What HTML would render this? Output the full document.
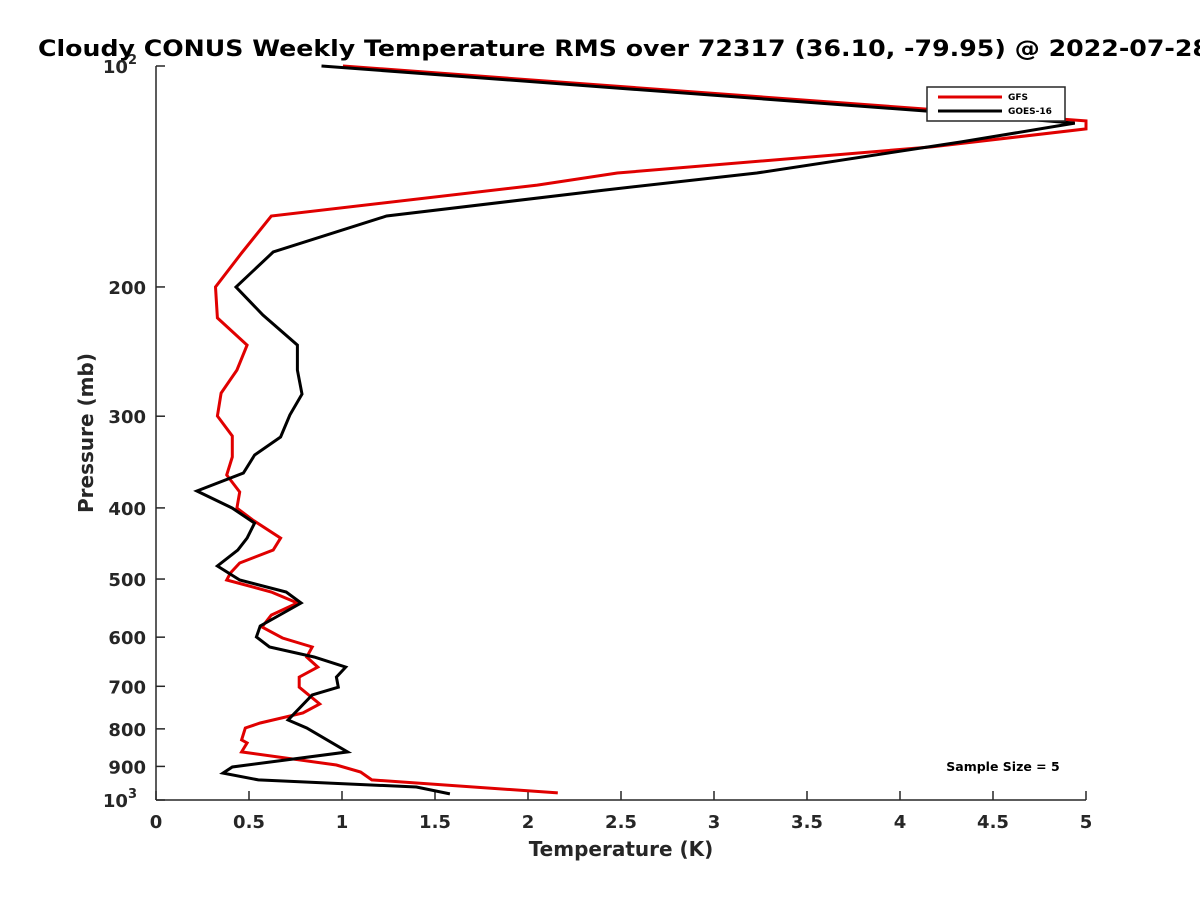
<!DOCTYPE html>
<html><head><meta charset="utf-8"><style>
body{margin:0;background:#fff;}
svg{display:block;font-family:"DejaVu Sans","Liberation Sans",sans-serif;}
</style></head><body>
<svg id="chart" width="1200" height="900">
<text x="38" y="56" font-size="22" font-weight="bold" fill="#000" textLength="1172" lengthAdjust="spacingAndGlyphs">Cloudy CONUS Weekly Temperature RMS over 72317 (36.10, -79.95) @ 2022-07-28</text>
<g id="axes"></g>
<g id="series"></g>
<text x="621" y="856" font-size="20" font-weight="bold" fill="#262626" text-anchor="middle">Temperature (K)</text>
<text transform="translate(93,433) rotate(-90)" font-size="20" font-weight="bold" fill="#262626" text-anchor="middle">Pressure (mb)</text>
<g>
<rect x="927" y="87" width="138" height="34" fill="#fff" stroke="#262626" stroke-width="1.5"/>
<line x1="938" y1="97" x2="1002" y2="97" stroke="#e00000" stroke-width="3"/>
<text x="1008" y="100" font-size="9" font-weight="bold">GFS</text>
<line x1="938" y1="111" x2="1002" y2="111" stroke="#000" stroke-width="3"/>
<text x="1008" y="114" font-size="9" font-weight="bold">GOES-16</text>
</g>
<text x="1003" y="771" font-size="12.5" font-weight="bold" text-anchor="middle">Sample Size = 5</text>
</svg>
<script>
const xTicks=[0,0.5,1,1.5,2,2.5,3,3.5,4,4.5,5];
const xTickLabels=["0","0.5","1","1.5","2","2.5","3","3.5","4","4.5","5"];
const yTicks=[100,200,300,400,500,600,700,800,900,1000];
const yTickLabels=["10^2","200","300","400","500","600","700","800","900","10^3"];
const gfsP=[100,118.8,121.8,128.9,139.9,145.3,160.1,179.8,200,220.4,240,259.6,279,299.8,319.2,341,360.8,380.5,400.2,415.5,439.7,456.5,475.5,490.6,501.5,520.7,539,559.8,581.2,601.6,618.9,638.6,659,680,702,739.9,761.1,785.3,797.7,828.3,836,860,896,916,939,978];
const gfsT=[1.005,5,5,4.17,2.48,2.05,0.62,0.46,0.32,0.33,0.49,0.435,0.35,0.33,0.41,0.41,0.38,0.45,0.435,0.52,0.67,0.63,0.45,0.40,0.38,0.62,0.76,0.62,0.57,0.68,0.84,0.81,0.87,0.77,0.77,0.88,0.79,0.56,0.48,0.46,0.49,0.46,0.97,1.10,1.16,2.16];
const goesP=[100,115.5,119.6,126.9,139.9,147.6,160.1,179.2,200,218.4,240,259.6,279.9,298.8,320.2,338.8,358.5,379.3,400.2,419.5,439.7,456.5,480,501.5,520.7,539,579.4,599.6,618.9,638.6,659,680,702,719.4,778,797.7,860,901.6,919,939,960,981];
const goesT=[0.89,4.20,4.94,4.33,3.23,2.41,1.24,0.63,0.43,0.575,0.76,0.76,0.785,0.72,0.67,0.53,0.47,0.22,0.41,0.53,0.49,0.44,0.33,0.45,0.70,0.78,0.56,0.54,0.61,0.85,1.02,0.97,0.98,0.84,0.71,0.81,1.03,0.41,0.36,0.55,1.40,1.58];
const X0=156,X1=1086,Y0=66,Y1=800;
const xs=t=>X0+(t-0)/(5-0)*(X1-X0);
const ys=p=>Y0+Math.log10(p/100)*(Y1-Y0);
const NS="http://www.w3.org/2000/svg";
function mk(tag,attrs,parent){const e=document.createElementNS(NS,tag);for(const k in attrs)e.setAttribute(k,attrs[k]);parent.appendChild(e);return e;}
const axes=document.getElementById('axes');
let e=mk('line',{x1:X0,y1:Y0,x2:X0,y2:Y1,stroke:'#262626','stroke-width':1.5},axes);


e=mk('line',{x1:X0,y1:Y1,x2:X1,y2:Y1,stroke:'#262626','stroke-width':1.5},axes);


xTicks.forEach((t,i)=>{
  const x=xs(t);
  let l=mk('line',{x1:x,y1:Y1,x2:x,y2:Y1-9,stroke:'#262626','stroke-width':1.5},axes);
  
  
  let tx=mk('text',{x:x,y:828,'font-size':18,'font-weight':'bold',fill:'#262626','text-anchor':'middle'},axes);
  tx.textContent=xTickLabels[i];
  
  
});
yTicks.forEach((p,i)=>{
  const y=ys(p);
  let l=mk('line',{x1:X0,y1:y,x2:X0+9,y2:y,stroke:'#262626','stroke-width':1.5},axes);
  
  
  let tx=mk('text',{x:146,y:y+7,'font-size':18,'font-weight':'bold',fill:'#262626','text-anchor':'end'},axes);
  const lab=yTickLabels[i];
  if(lab.indexOf('^')>=0){const [b,ex]=lab.split('^');tx.textContent=b;const s=mk('tspan',{dy:-9,'font-size':13},tx);s.textContent=ex;tx.setAttribute('x',137);}
  else tx.textContent=lab;
  
  
});
const ser=document.getElementById('series');
function line(P,T,color,name){
  const pts=P.map((p,i)=>xs(T[i]).toFixed(1)+','+ys(p).toFixed(1)).join(' ');
  const pl=mk('polyline',{points:pts,fill:'none',stroke:color,'stroke-width':3,'stroke-linejoin':'miter'},ser);
  
  
}
line(gfsP,gfsT,'#e00000','gfs-line');
line(goesP,goesT,'#000','goes16-line');
</script>
</body></html>
